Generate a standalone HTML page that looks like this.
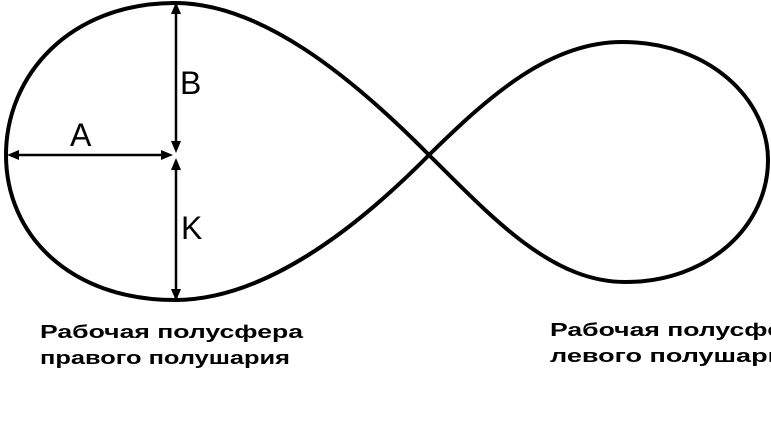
<!DOCTYPE html>
<html><head><meta charset="utf-8"><style>
body{margin:0;background:#fff;width:771px;height:433px;overflow:hidden}
svg{display:block}
</style></head><body>
<svg width="771" height="433" viewBox="0 0 771 433" xmlns="http://www.w3.org/2000/svg">
<g fill="none" stroke="#000" stroke-width="4">
<path d="M429,155 C350,75 260,3 175,3 C70,3 6,75 6,155 C6,235 70,300 175,300 C260,300 350,235 429,155"/>
<path d="M429,155 C490,95 550,42 622,42 C710,42 768,100 768,160 C768,225 710,282 625,282 C550,282 490,215 429,155"/>
</g>
<g stroke="#000" stroke-width="2.5">
<line x1="176" y1="10" x2="176" y2="146"/>
<line x1="176" y1="166" x2="176" y2="293"/>
<line x1="14" y1="155" x2="166" y2="155"/>
</g>
<g fill="#000">
<polygon points="176,2 171,14 181,14"/>
<polygon points="176,153 171,141 181,141"/>
<polygon points="176,158 171,170 181,170"/>
<polygon points="176,301 171,289 181,289"/>
<polygon points="7,155 19,150 19,160"/>
<polygon points="173,155 161,150 161,160"/>
</g>
<g font-family="Liberation Sans, sans-serif" fill="#000">
<text x="180" y="94" font-size="32">B</text>
<text x="70" y="146" font-size="32">A</text>
<text x="181" y="239" font-size="32">K</text>
<g font-size="18" font-weight="bold">
<text x="40" y="338" textLength="263" lengthAdjust="spacingAndGlyphs">Рабочая полусфера</text>
<text x="40" y="364" textLength="250" lengthAdjust="spacingAndGlyphs">правого полушария</text>
<text x="550" y="336" textLength="263" lengthAdjust="spacingAndGlyphs">Рабочая полусфера</text>
<text x="550" y="362" textLength="250" lengthAdjust="spacingAndGlyphs">левого полушария</text>
</g>
</g>
</svg>
</body></html>
